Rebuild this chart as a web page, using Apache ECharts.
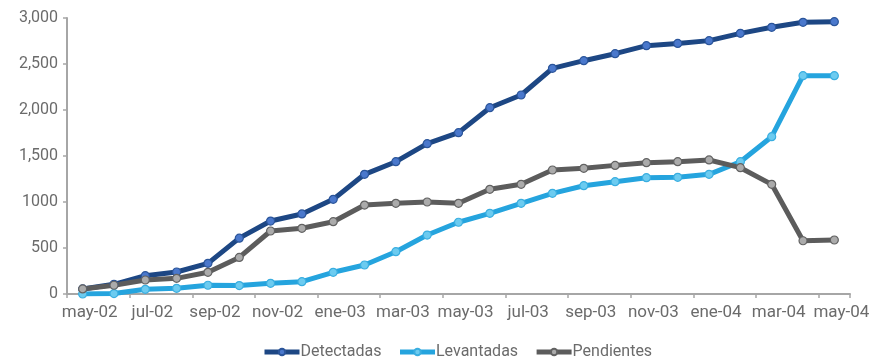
<!DOCTYPE html>
<html>
<head>
<meta charset="utf-8">
<script src="https://cdn.jsdelivr.net/npm/echarts@6/dist/echarts.min.js"></script>
<style>
  html, body { margin: 0; padding: 0; background: #ffffff; }
  #chart { width: 881px; height: 357px; }
</style>
</head>
<body>
<div id="chart"></div>
<script>
// Monthly observations, May 2002 – May 2004
const months = ['may-02','jun-02','jul-02','ago-02','sep-02','oct-02','nov-02','dic-02',
  'ene-03','feb-03','mar-03','abr-03','may-03','jun-03','jul-03','ago-03','sep-03','oct-03',
  'nov-03','dic-03','ene-04','feb-04','mar-04','abr-04','may-04'];

const detectadas = [55, 105, 199, 239, 333, 607, 793, 870, 1029, 1301, 1438, 1634, 1754,
  2025, 2163, 2453, 2536, 2612, 2699, 2724, 2754, 2833, 2899, 2953, 2960];
const levantadas = [0, 5, 51, 62, 95, 92, 116, 134, 236, 315, 460, 641, 780,
  877, 986, 1094, 1177, 1221, 1264, 1268, 1301, 1438, 1710, 2373, 2373];
const pendientes = [55, 95, 152, 170, 236, 398, 685, 714, 786, 967, 986, 1000, 986,
  1138, 1192, 1348, 1366, 1398, 1427, 1438, 1457, 1373, 1192, 579, 587];

// Value-axis tick labels (as printed)
const yTickValues = [0, 500, 1000, 1500, 2000, 2500, 3000];
const yTickLabels = ['0', '500', '1000', '1,500', '2,000', '2,500', '3,000'];

const FONT = 'Roboto';
const TEXT = '#6b6b6b';
const AXIS = '#a6a6a6';

function lineSeries(name, data, lineColor, fill, border) {
  return {
    name: name,
    type: 'line',
    data: data,
    symbol: 'circle',
    symbolSize: 8,
    lineStyle: { color: lineColor, width: 5 },
    itemStyle: { color: fill, borderColor: border, borderWidth: 1.2 },
    emphasis: { disabled: true },
    z: 2
  };
}

const chart = echarts.init(document.getElementById('chart'), null, { renderer: 'canvas' });
chart.setOption({
  animation: false,
  backgroundColor: '#ffffff',
  textStyle: { fontFamily: FONT },
  grid: { left: 67, right: 31, top: 18, bottom: 63, containLabel: false },
  legend: {
    top: 339,
    left: 257,
    itemWidth: 35,
    itemHeight: 8,
    itemGap: 16,
    lineStyle: { width: 5 },
    textStyle: { color: TEXT, fontSize: 16, fontFamily: FONT, padding: [0, 0, 0, -4] },
    data: ['Detectadas', 'Levantadas', 'Pendientes']
  },
  xAxis: {
    type: 'category',
    data: months,
    boundaryGap: true,
    axisLine: { lineStyle: { color: AXIS, width: 2 } },
    axisTick: { show: true, interval: 1, length: 4, lineStyle: { color: AXIS, width: 1.5 } },
    axisLabel: {
      interval: 1,
      color: TEXT,
      fontSize: 17,
      fontFamily: FONT,
      margin: 10,
      padding: [0, 0, 0, 14]
    },
    splitLine: { show: false }
  },
  yAxis: {
    type: 'value',
    min: 0,
    max: 3000,
    interval: 500,
    axisLine: { show: true, lineStyle: { color: AXIS, width: 2 } },
    axisTick: { show: true, length: 4, lineStyle: { color: AXIS, width: 1.5 } },
    splitLine: { show: false },
    axisLabel: {
      color: TEXT,
      fontSize: 16,
      fontFamily: FONT,
      margin: 9,
      formatter: function (v) {
        const i = yTickValues.indexOf(v);
        return i >= 0 ? yTickLabels[i] : '';
      }
    }
  },
  series: [
    lineSeries('Detectadas', detectadas, '#1d4784', '#4a78cc', '#2b559a'),
    lineSeries('Levantadas', levantadas, '#25a4de', '#6ccbf0', '#3aaee0'),
    lineSeries('Pendientes', pendientes, '#5c5c5c', '#ababab', '#626262')
  ]
});
</script>
</body>
</html>
